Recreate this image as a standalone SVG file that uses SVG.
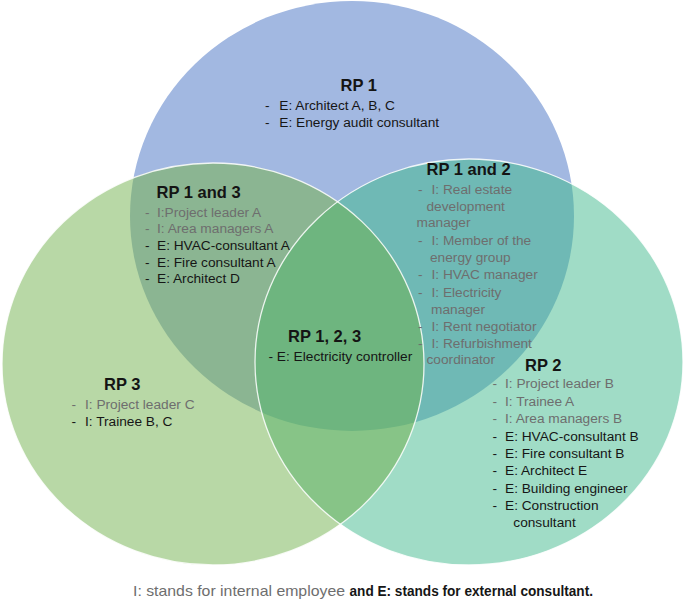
<svg xmlns="http://www.w3.org/2000/svg" width="685" height="602" viewBox="0 0 685 602">
<style>
.t{font-family:"Liberation Sans",Arial,sans-serif;font-size:13.7px}
.h{font-family:"Liberation Sans",Arial,sans-serif;font-size:16.5px;font-weight:bold;fill:#141414}
.g{fill:#6e6e6e}
.k{fill:#161616}
.edge{fill:none;stroke:#ffffff;stroke-width:1.3;stroke-opacity:0.85}
</style>
<defs>
<ellipse id="eB" cx="352" cy="216" rx="222" ry="215"/>
<ellipse id="eL" cx="213" cy="364" rx="211" ry="201"/>
<ellipse id="eR" cx="469" cy="362" rx="214" ry="203"/>
<clipPath id="cB"><use href="#eB"/></clipPath>
<clipPath id="cL"><use href="#eL"/></clipPath>
<clipPath id="cR"><use href="#eR"/></clipPath>
</defs>
<rect width="685" height="602" fill="#ffffff"/>
<g id="node-rp1"><use href="#eB" fill="#A2B8E1"/></g>
<g id="node-rp3"><use href="#eL" fill="#B8D8A6"/></g>
<g id="node-rp2"><use href="#eR" fill="#A0DCC6"/></g>
<g id="node-rp1and3" clip-path="url(#cB)"><use href="#eL" fill="#8BB592"/></g>
<g id="node-rp1and2" clip-path="url(#cB)"><use href="#eR" fill="#6FB9B5"/></g>
<g id="node-rp2and3" clip-path="url(#cL)"><use href="#eR" fill="#87C487"/></g>
<g id="node-rp123" clip-path="url(#cB)"><g clip-path="url(#cL)"><use href="#eR" fill="#6EB57F"/></g></g>
<g id="edges"><use href="#eL" class="edge"/><use href="#eR" class="edge"/></g>
<g id="connectors"/>

<g id="label-rp1">
<text class="h" x="340.5" y="91">RP 1</text>
<text class="t k" y="110"><tspan x="265">-</tspan><tspan x="279.3">E: Architect A, B, C</tspan></text>
<text class="t k" y="127"><tspan x="265">-</tspan><tspan x="279.3">E: Energy audit consultant</tspan></text>
</g>

<g id="label-rp1and3">
<text class="h" x="156.5" y="197.5">RP 1 and 3</text>
<text class="t g" y="216.5"><tspan x="145">-</tspan><tspan x="157">I:Project leader A</tspan></text>
<text class="t g" y="233.2"><tspan x="145">-</tspan><tspan x="157">I: Area managers A</tspan></text>
<text class="t k" y="250"><tspan x="145">-</tspan><tspan x="157">E: HVAC-consultant A</tspan></text>
<text class="t k" y="266.6"><tspan x="145">-</tspan><tspan x="157">E: Fire consultant A</tspan></text>
<text class="t k" y="282.8"><tspan x="145">-</tspan><tspan x="157">E: Architect D</tspan></text>
</g>

<g id="label-rp1and2">
<text class="h" x="426.5" y="175">RP 1 and 2</text>
<text class="t g" y="194"><tspan x="418">-</tspan><tspan x="431.5">I: Real estate</tspan></text>
<text class="t g" x="426.5" y="210.5">development</text>
<text class="t g" x="416.5" y="227">manager</text>
<text class="t g" y="245"><tspan x="418">-</tspan><tspan x="431.5">I: Member of the</tspan></text>
<text class="t g" x="430" y="261.8">energy group</text>
<text class="t g" y="279.3"><tspan x="418">-</tspan><tspan x="431.5">I: HVAC manager</tspan></text>
<text class="t g" y="296.7"><tspan x="418">-</tspan><tspan x="431.5">I: Electricity</tspan></text>
<text class="t g" x="431" y="314">manager</text>
<text class="t g" y="331"><tspan x="418">-</tspan><tspan x="431.5">I: Rent negotiator</tspan></text>
<text class="t g" y="347.7"><tspan x="418">-</tspan><tspan x="431.5">I: Refurbishment</tspan></text>
<text class="t g" x="426.5" y="363.5">coordinator</text>
</g>

<g id="label-rp123">
<text class="h" x="288" y="342.3">RP 1, 2, 3</text>
<text class="t k" x="268.5" y="360.8">- E: Electricity controller</text>
</g>

<g id="label-rp3">
<text class="h" x="104" y="390">RP 3</text>
<text class="t g" y="409"><tspan x="71.5">-</tspan><tspan x="85">I: Project leader C</tspan></text>
<text class="t k" y="425.8"><tspan x="71.5">-</tspan><tspan x="85">I: Trainee B, C</tspan></text>
</g>

<g id="label-rp2">
<text class="h" x="525" y="370.8">RP 2</text>
<text class="t g" y="388.3"><tspan x="492.5">-</tspan><tspan x="505">I: Project leader B</tspan></text>
<text class="t g" y="405.6"><tspan x="492.5">-</tspan><tspan x="505">I: Trainee A</tspan></text>
<text class="t g" y="422.8"><tspan x="492.5">-</tspan><tspan x="505">I: Area managers B</tspan></text>
<text class="t k" y="440.6"><tspan x="492.5">-</tspan><tspan x="505">E: HVAC-consultant B</tspan></text>
<text class="t k" y="457.8"><tspan x="492.5">-</tspan><tspan x="505">E: Fire consultant B</tspan></text>
<text class="t k" y="475"><tspan x="492.5">-</tspan><tspan x="505">E: Architect E</tspan></text>
<text class="t k" y="492.6"><tspan x="492.5">-</tspan><tspan x="505">E: Building engineer</tspan></text>
<text class="t k" y="510"><tspan x="492.5">-</tspan><tspan x="505">E: Construction</tspan></text>
<text class="t k" x="513.3" y="526.8">consultant</text>
</g>

<g id="legend">
<text class="t g" x="133" y="596" style="font-size:14.5px" textLength="212" lengthAdjust="spacingAndGlyphs">I: stands for internal employee</text>
<text class="t k" x="349.5" y="596" style="font-size:14.5px;font-weight:bold" textLength="243.5" lengthAdjust="spacingAndGlyphs">and E: stands for external consultant.</text>
</g>
</svg>
